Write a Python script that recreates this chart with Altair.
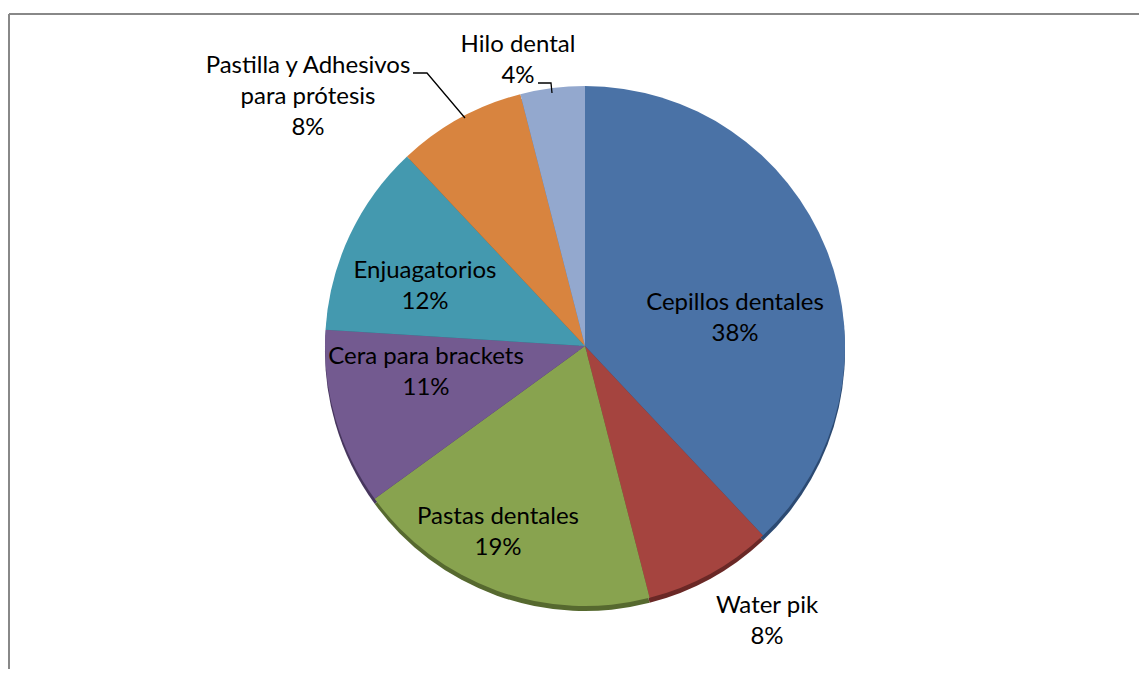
import altair as alt
import pandas as pd

# ---- data ----
categories = ["Cepillos dentales", "Water pik", "Pastas dentales", "Cera para brackets",
              "Enjuagatorios", "Pastilla y Adhesivos para prótesis", "Hilo dental"]
values = [38, 8, 19, 11, 12, 8, 4]
colors = ["#4A72A6", "#A5443F", "#88A34F", "#735A90", "#4499AF", "#D8843F", "#93A8CE"]
shadow_colors = ["#2C4A72", "#6A2826", "#56692F", "#47365E", "#2A6676", "#8E5526", "#5E7196"]

# label text lines (category + percentage)
label_lines = [
    ["Cepillos dentales", "38%"],
    ["Water pik", "8%"],
    ["Pastas dentales", "19%"],
    ["Cera para brackets", "11%"],
    ["Enjuagatorios", "12%"],
    ["Pastilla y Adhesivos", "para prótesis", "8%"],
    ["Hilo dental", "4%"],
]
# label anchor (svg px, centre of first line) -- layout, not data
label_pos = [(727, 295), (759, 598), (490, 509), (418, 349), (417, 263), (300, 58), (510, 37)]
line_gap = 31

W, H = 1131, 661
CX, CY, R = 577, 338, 260

df = pd.DataFrame({"category": categories, "value": values, "idx": list(range(len(values)))})

pie = alt.Chart(df).mark_arc(radius=R).encode(
    theta=alt.Theta("value:Q", stack=True),
    color=alt.Color("category:N", scale=alt.Scale(domain=categories, range=colors), legend=None),
    order=alt.Order("idx:Q"),
    x=alt.value(CX), y=alt.value(CY),
)

shadow = alt.Chart(df).mark_arc(radius=R).encode(
    theta=alt.Theta("value:Q", stack=True),
    color=alt.Color("category:N", scale=alt.Scale(domain=categories, range=shadow_colors), legend=None),
    order=alt.Order("idx:Q"),
    x=alt.value(CX), y=alt.value(CY + 5),
)

rows = []
for lines, (lx, ly) in zip(label_lines, label_pos):
    for k, t in enumerate(lines):
        rows.append({"text": t, "px": lx, "py": ly + k * line_gap})
lab_df = pd.DataFrame(rows)

labels = alt.Chart(lab_df).mark_text(
    font="Lato", fontSize=24, color="#000000", align="center", baseline="middle"
).encode(
    text="text:N",
    x=alt.X("px:Q", scale=alt.Scale(domain=[0, W], range=[0, W]), axis=None),
    y=alt.Y("py:Q", scale=alt.Scale(domain=[0, H], range=[0, H]), axis=None),
)

# leader lines
leader_df = pd.DataFrame({
    "grp": ["a", "a", "a", "b", "b", "b"],
    "o": [0, 1, 2, 0, 1, 2],
    "px": [405, 419, 457, 530, 543, 544],
    "py": [65, 65, 110, 75, 75, 85],
})
leaders = alt.Chart(leader_df).mark_line(color="#000000", strokeWidth=1.3).encode(
    x=alt.X("px:Q", scale=alt.Scale(domain=[0, W], range=[0, W]), axis=None),
    y=alt.Y("py:Q", scale=alt.Scale(domain=[0, H], range=[0, H]), axis=None),
    detail="grp:N",
    order="o:Q",
)

border_top = alt.Chart(df).mark_rule(color="#888888", strokeWidth=2).encode(
    x=alt.value(1), x2=alt.value(W), y=alt.value(6)
)
border_left = alt.Chart(df).mark_rule(color="#888888", strokeWidth=2).encode(
    x=alt.value(1), y=alt.value(6), y2=alt.value(H)
)

chart = alt.layer(shadow, pie, leaders, labels, border_top, border_left).resolve_scale(
    color="independent"
).properties(
    width=W, height=H, autosize=alt.AutoSizeParams(type="none"), padding=0,
    background="white",
).configure_view(stroke=None)

chart.save("out.html", embed_options={"renderer": "svg", "actions": False})
